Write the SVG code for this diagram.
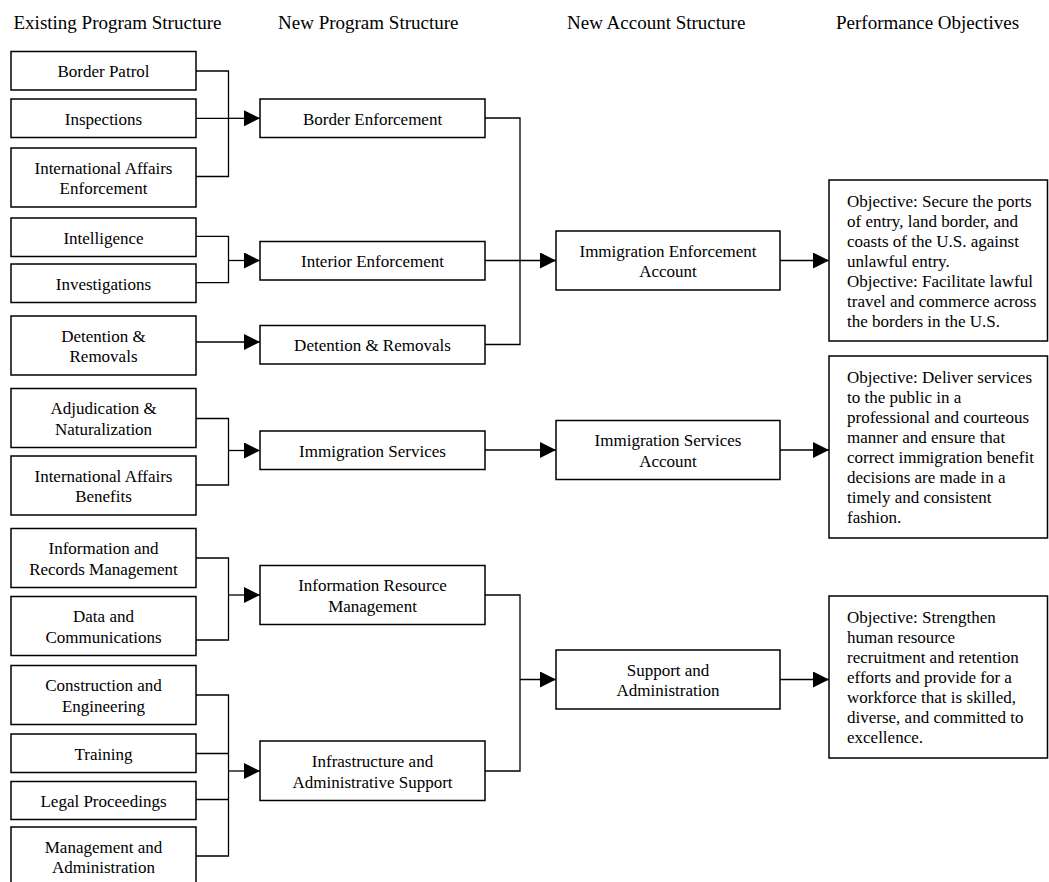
<svg xmlns="http://www.w3.org/2000/svg" width="1049" height="882" viewBox="0 0 1049 882">
<style>
text{font-family:"Liberation Serif","Times New Roman",serif;fill:#000}
.h{font-size:19px}
.t{font-size:17px;text-anchor:middle}
.o{font-size:17px}
rect{fill:#fff;stroke:#000;stroke-width:1.5}
.c path{fill:none;stroke:#000;stroke-width:1.3}
</style>
<defs>
<marker id="ah" markerUnits="userSpaceOnUse" markerWidth="16" markerHeight="16" refX="16" refY="8" orient="auto">
<path d="M0,0 L16,8 L0,16 z" fill="#000"/>
</marker>
</defs>
<rect x="0" y="0" width="1049" height="882" style="stroke:none;fill:#fff"/>
<g id="headers">
<text class="h" x="13.5" y="29">Existing Program Structure</text>
<text class="h" x="278" y="29">New Program Structure</text>
<text class="h" x="567" y="29">New Account Structure</text>
<text class="h" x="836" y="29">Performance Objectives</text>
</g>
<g class="c" id="connectors">
<path d="M196,71 H228.5 V176.5 H196 M196,118.3 H228.5"/>
<path d="M228.5,118.3 H260" marker-end="url(#ah)"/>
<path d="M196,236.4 H228.5 V282.7 H196"/>
<path d="M228.5,260.5 H260" marker-end="url(#ah)"/>
<path d="M196,342 H260" marker-end="url(#ah)"/>
<path d="M196,418.5 H228.5 V485 H196"/>
<path d="M228.5,450.5 H260" marker-end="url(#ah)"/>
<path d="M196,558 H228.5 V640 H196"/>
<path d="M228.5,595 H260" marker-end="url(#ah)"/>
<path d="M196,695 H228.5 V856 H196 M196,753.5 H228.5 M196,799.5 H228.5"/>
<path d="M228.5,771 H260" marker-end="url(#ah)"/>
<path d="M485,118 H520 V344.5 H485 M485,260.5 H520"/>
<path d="M520,260.5 H556" marker-end="url(#ah)"/>
<path d="M485,450 H556" marker-end="url(#ah)"/>
<path d="M485,595 H520 V771 H485"/>
<path d="M520,679.5 H556" marker-end="url(#ah)"/>
<path d="M780,260.5 H829" marker-end="url(#ah)"/>
<path d="M780,450 H829" marker-end="url(#ah)"/>
<path d="M780,679.5 H829" marker-end="url(#ah)"/>
</g>
<g id="ex-border-patrol"><rect x="11" y="51.5" width="185" height="38.5"/><text class="t" x="103.5" y="77">Border Patrol</text></g>
<g id="ex-inspections"><rect x="11" y="99" width="185" height="38.5"/><text class="t" x="103.5" y="124.5">Inspections</text></g>
<g id="ex-intl-enf"><rect x="11" y="148" width="185" height="59"/><text class="t" x="103.5" y="173.75">International Affairs</text><text class="t" x="103.5" y="194.25">Enforcement</text></g>
<g id="ex-intelligence"><rect x="11" y="218" width="185" height="38.5"/><text class="t" x="103.5" y="243.5">Intelligence</text></g>
<g id="ex-investigations"><rect x="11" y="264" width="185" height="38.5"/><text class="t" x="103.5" y="289.5">Investigations</text></g>
<g id="ex-detention"><rect x="11" y="316" width="185" height="59"/><text class="t" x="103.5" y="341.75">Detention &amp;</text><text class="t" x="103.5" y="362.25">Removals</text></g>
<g id="ex-adjudication"><rect x="11" y="388.5" width="185" height="59"/><text class="t" x="103.5" y="414.25">Adjudication &amp;</text><text class="t" x="103.5" y="434.75">Naturalization</text></g>
<g id="ex-intl-ben"><rect x="11" y="456" width="185" height="59"/><text class="t" x="103.5" y="481.75">International Affairs</text><text class="t" x="103.5" y="502.25">Benefits</text></g>
<g id="ex-info-records"><rect x="11" y="528.5" width="185" height="59"/><text class="t" x="103.5" y="554.25">Information and</text><text class="t" x="103.5" y="574.75">Records Management</text></g>
<g id="ex-data-comm"><rect x="11" y="596.5" width="185" height="59"/><text class="t" x="103.5" y="622.25">Data and</text><text class="t" x="103.5" y="642.75">Communications</text></g>
<g id="ex-construction"><rect x="11" y="665.5" width="185" height="59"/><text class="t" x="103.5" y="691.25">Construction and</text><text class="t" x="103.5" y="711.75">Engineering</text></g>
<g id="ex-training"><rect x="11" y="734" width="185" height="38.5"/><text class="t" x="103.5" y="759.5">Training</text></g>
<g id="ex-legal"><rect x="11" y="781.5" width="185" height="38"/><text class="t" x="103.5" y="807">Legal Proceedings</text></g>
<g id="ex-mgmt-admin"><rect x="11" y="827" width="185" height="59"/><text class="t" x="103.5" y="852.75">Management and</text><text class="t" x="103.5" y="873.25">Administration</text></g>
<g id="np-border-enf"><rect x="260" y="99" width="225" height="38.5"/><text class="t" x="372.5" y="124.75">Border Enforcement</text></g>
<g id="np-interior-enf"><rect x="260" y="241.5" width="225" height="38.5"/><text class="t" x="372.5" y="267">Interior Enforcement</text></g>
<g id="np-detention"><rect x="260" y="325.5" width="225" height="38.5"/><text class="t" x="372.5" y="351">Detention &amp; Removals</text></g>
<g id="np-imm-services"><rect x="260" y="431" width="225" height="38.5"/><text class="t" x="372.5" y="456.5">Immigration Services</text></g>
<g id="np-irm"><rect x="260" y="565.5" width="225" height="59"/><text class="t" x="372.5" y="591.25">Information Resource</text><text class="t" x="372.5" y="611.75">Management</text></g>
<g id="np-infra"><rect x="260" y="741" width="225" height="59.5"/><text class="t" x="372.5" y="767">Infrastructure and</text><text class="t" x="372.5" y="787.5">Administrative Support</text></g>
<g id="ac-enforcement"><rect x="556" y="231" width="224" height="59"/><text class="t" x="668" y="256.75">Immigration Enforcement</text><text class="t" x="668" y="277.25">Account</text></g>
<g id="ac-services"><rect x="556" y="420.5" width="224" height="59"/><text class="t" x="668" y="446.25">Immigration Services</text><text class="t" x="668" y="466.75">Account</text></g>
<g id="ac-support"><rect x="556" y="650" width="224" height="59"/><text class="t" x="668" y="675.75">Support and</text><text class="t" x="668" y="696.25">Administration</text></g>
<g id="obj-enforcement"><rect x="829" y="180" width="218.5" height="161"/>
<text class="o" x="847" y="207">Objective: Secure the ports</text>
<text class="o" x="847" y="227">of entry, land border, and</text>
<text class="o" x="847" y="247">coasts of the U.S. against</text>
<text class="o" x="847" y="267">unlawful entry.</text>
<text class="o" x="847" y="287">Objective: Facilitate lawful</text>
<text class="o" x="847" y="307">travel and commerce across</text>
<text class="o" x="847" y="327">the borders in the U.S.</text>
</g>
<g id="obj-services"><rect x="829" y="356" width="218.5" height="182"/>
<text class="o" x="847" y="383">Objective: Deliver services</text>
<text class="o" x="847" y="403">to the public in a</text>
<text class="o" x="847" y="423">professional and courteous</text>
<text class="o" x="847" y="443">manner and ensure that</text>
<text class="o" x="847" y="463">correct immigration benefit</text>
<text class="o" x="847" y="483">decisions are made in a</text>
<text class="o" x="847" y="503">timely and consistent</text>
<text class="o" x="847" y="523">fashion.</text>
</g>
<g id="obj-support"><rect x="829" y="596" width="218.5" height="162"/>
<text class="o" x="847" y="623">Objective: Strengthen</text>
<text class="o" x="847" y="643">human resource</text>
<text class="o" x="847" y="663">recruitment and retention</text>
<text class="o" x="847" y="683">efforts and provide for a</text>
<text class="o" x="847" y="703">workforce that is skilled,</text>
<text class="o" x="847" y="723">diverse, and committed to</text>
<text class="o" x="847" y="743">excellence.</text>
</g>
</svg>
